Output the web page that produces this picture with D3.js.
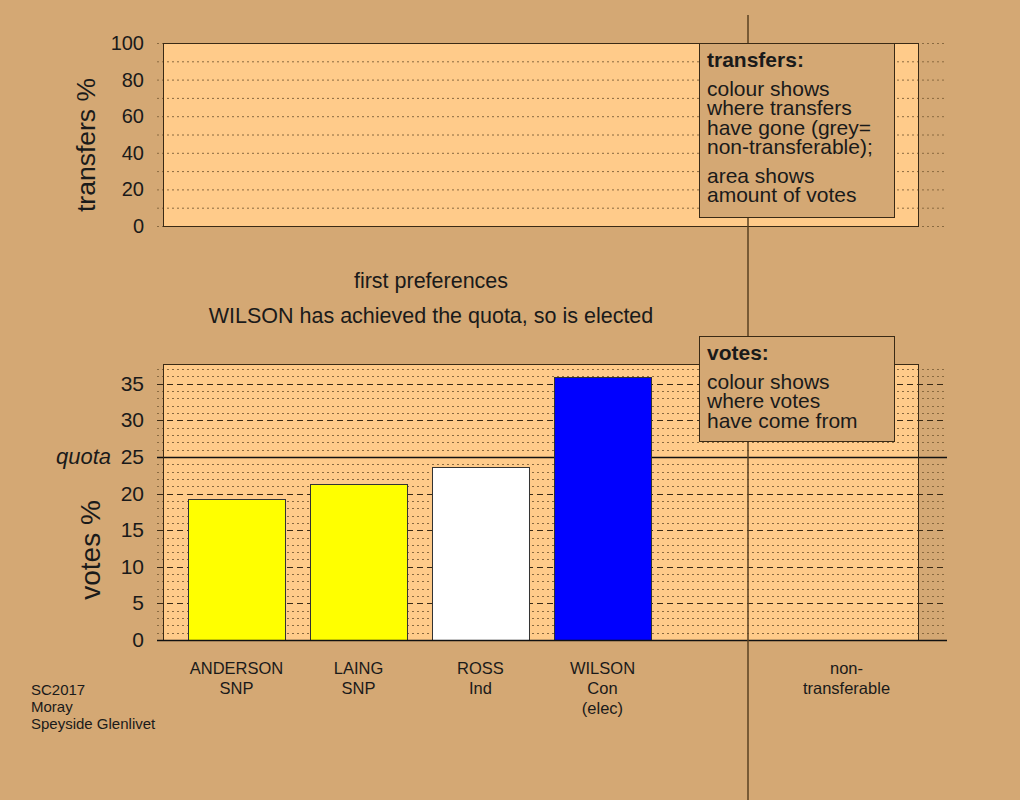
<!DOCTYPE html>
<html><head><meta charset="utf-8">
<script src="https://cdn.jsdelivr.net/npm/d3@7"></script>
<style>
html,body{margin:0;padding:0;background:#D4A874;}
svg{display:block;font-family:"Liberation Sans",Arial,Helvetica,sans-serif;}
</style></head>
<body>
<svg id="chart" width="1020" height="800"></svg>
<script>
// ---- data ----
const candidates = ["ANDERSON", "LAING", "ROSS", "WILSON", "", "non-transferable"];
const labelLines = [["ANDERSON","SNP"],["LAING","SNP"],["ROSS","Ind"],["WILSON","Con","(elec)"],[],["non-","transferable"]];
const votes = [19.2, 21.3, 23.6, 35.9, null, null];
const barColours = ["#FFFF00", "#FFFF00", "#FFFFFF", "#0000FF", null, null];
const quota = 25;
const transferTicks = [0, 20, 40, 60, 80, 100];
const transferMinor = [10, 30, 50, 70, 90];
const voteTicks = [0, 5, 10, 15, 20, 25, 30, 35];
const voteMinorStep = 1;
const titleLines = ["first preferences", "WILSON has achieved the quota, so is elected"];
const transfersLegend = {title: "transfers:", groups: [["colour shows","where transfers","have gone (grey=","non-transferable);"],["area shows","amount of votes"]]};
const votesLegend = {title: "votes:", groups: [["colour shows","where votes","have come from"]]};
const footer = ["SC2017", "Moray", "Speyside Glenlivet"];

// ---- layout ----
const BG = "#D4A874", PLOT = "#FFCB8A", INK = "#1a1a1a";
const plotL = 163, plotR = 918, gridL = 157, gridR = 947;
const top1 = 43, bot1 = 226, top2 = 364, bot2 = 640;
const divX = 748;

const svg = d3.select("#chart");
svg.append("rect").attr("width",1020).attr("height",800).attr("fill",BG);

const x = d3.scaleBand().domain(d3.range(candidates.length)).range([175.5, 907.5]).paddingInner(0.205).paddingOuter(0.1025);
const yT = d3.scaleLinear().domain([0,100]).range([bot1, top1]);
const yV = d3.scaleLinear().domain([0,37.7]).range([bot2, top2]);

// ---- top panel ----
const gT = svg.append("g");
gT.append("rect").attr("x",plotL).attr("y",top1).attr("width",plotR-plotL).attr("height",bot1-top1).attr("fill",PLOT);
gT.selectAll("line.g").data(transferTicks.concat(transferMinor)).join("line")
  .attr("x1",gridL).attr("x2",gridR).attr("y1",d=>yT(d)+0.5).attr("y2",d=>yT(d)+0.5)
  .attr("stroke","#8a6a40").attr("stroke-width",1).attr("stroke-dasharray","2,3");
gT.append("rect").attr("x",plotL+0.5).attr("y",top1+0.5).attr("width",plotR-plotL).attr("height",bot1-top1)
  .attr("fill","none").attr("stroke","#3a2a15").attr("stroke-width",1);
gT.selectAll("text.t").data(transferTicks).join("text")
  .attr("x",144).attr("y",d=>yT(d)+7).attr("text-anchor","end").attr("font-size",20).attr("fill",INK).text(d=>d);
gT.append("text").attr("transform",`translate(95,145) rotate(-90)`).attr("text-anchor","middle")
  .attr("font-size",26.5).attr("fill",INK).text("transfers %");

// titles
svg.selectAll("text.title").data(titleLines).join("text")
  .attr("x",431).attr("y",(d,i)=>288+i*35).attr("text-anchor","middle").attr("font-size",21.5).attr("fill",INK).text(d=>d);

// ---- bottom panel ----
const gV = svg.append("g");
gV.append("rect").attr("x",plotL).attr("y",top2).attr("width",plotR-plotL).attr("height",bot2-top2).attr("fill",PLOT);
const minor = d3.range(1, 38, voteMinorStep).filter(v => v % 5 !== 0);
gV.selectAll("line.m").data(minor).join("line")
  .attr("x1",gridL).attr("x2",gridR).attr("y1",d=>Math.round(yV(d))+0.5).attr("y2",d=>Math.round(yV(d))+0.5)
  .attr("stroke","#8a6a40").attr("stroke-width",1).attr("stroke-dasharray","2,3");
gV.selectAll("line.M").data(voteTicks.filter(v=>v>0 && v!==quota)).join("line")
  .attr("x1",gridL).attr("x2",gridR).attr("y1",d=>Math.round(yV(d))+0.5).attr("y2",d=>Math.round(yV(d))+0.5)
  .attr("stroke","#3a2a15").attr("stroke-width",1).attr("stroke-dasharray","6,4");
gV.append("line").attr("x1",gridL).attr("x2",gridR).attr("y1",Math.round(yV(quota))+0.5).attr("y2",Math.round(yV(quota))+0.5)
  .attr("stroke","#111").attr("stroke-width",1.5);
gV.append("rect").attr("x",plotL+0.5).attr("y",top2+0.5).attr("width",plotR-plotL).attr("height",bot2-top2)
  .attr("fill","none").attr("stroke","#3a2a15").attr("stroke-width",1);
const barData = votes.map((v,i)=>({i, v, c: barColours[i]})).filter(d=>d.v!=null);
gV.selectAll("rect.bar").data(barData).join("rect")
  .attr("x",d=>Math.round(x(d.i))+0.5).attr("y",d=>Math.round(yV(d.v))+0.5)
  .attr("width",x.bandwidth()).attr("height",d=>Math.round(yV(0))-Math.round(yV(d.v)))
  .attr("fill",d=>d.c).attr("stroke","#333").attr("stroke-width",1);
gV.append("line").attr("x1",gridL).attr("x2",gridR).attr("y1",bot2+0.5).attr("y2",bot2+0.5).attr("stroke","#111").attr("stroke-width",1.5);
gV.selectAll("text.t").data(voteTicks).join("text")
  .attr("x",144).attr("y",d=>yV(d)+7).attr("text-anchor","end").attr("font-size",21).attr("fill",INK).text(d=>d);
gV.append("text").attr("x",111).attr("y",yV(quota)+7).attr("text-anchor","end").attr("font-size",22)
  .attr("font-style","italic").attr("fill",INK).text("quota");
gV.append("text").attr("transform",`translate(100,${yV(12.3)}) rotate(-90)`).attr("text-anchor","middle")
  .attr("font-size",28).attr("fill",INK).text("votes %");

// x labels
const xl = svg.selectAll("text.xl").data(labelLines.map((l,i)=>({l,i}))).join("text")
  .attr("text-anchor","middle").attr("font-size",16.5).attr("fill",INK);
xl.each(function(d){
  const t = d3.select(this);
  d.l.forEach((s,k)=>t.append("tspan").attr("x",x(d.i)+x.bandwidth()/2).attr("y",674+k*20).text(s));
});

// divider
svg.append("line").attr("x1",divX).attr("x2",divX).attr("y1",15).attr("y2",800).attr("stroke","#5a4020").attr("stroke-width",1.5);

// legends
function legend(L, bx, by, bw, bh){
  const g = svg.append("g");
  g.append("rect").attr("x",bx+0.5).attr("y",by+0.5).attr("width",bw).attr("height",bh).attr("fill",BG).attr("stroke","#3a2a15").attr("stroke-width",1);
  g.append("text").attr("x",bx+8).attr("y",by+24).attr("font-size",21).attr("font-weight","bold").attr("fill",INK).text(L.title);
  let yy = by+24+29;
  L.groups.forEach(grp=>{
    grp.forEach(s=>{ g.append("text").attr("x",bx+8).attr("y",yy).attr("font-size",21).attr("fill",INK).text(s); yy += 19.3; });
    yy += 9.5;
  });
}
legend(transfersLegend, 699, 43, 195, 174);
legend(votesLegend, 699, 336, 195, 105);

// footer
svg.selectAll("text.ft").data(footer).join("text")
  .attr("x",31).attr("y",(d,i)=>695+i*17).attr("font-size",15).attr("fill",INK).text(d=>d);
</script>
</body></html>
